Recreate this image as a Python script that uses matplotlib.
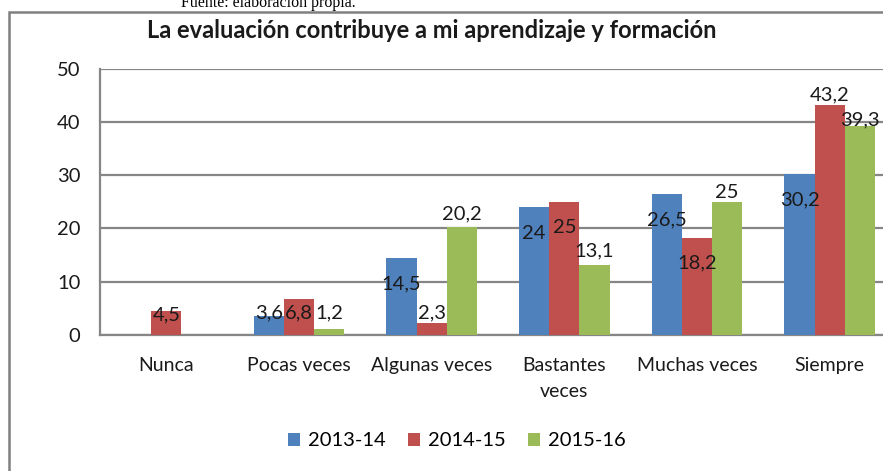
import numpy as np
import matplotlib.pyplot as plt
from matplotlib.patches import Rectangle

# Data
categories = ["Nunca", "Pocas veces", "Algunas veces", "Bastantes\nveces", "Muchas veces", "Siempre"]
series_names = ["2013-14", "2014-15", "2015-16"]
v_2013 = [np.nan, 3.6, 14.5, 24, 26.5, 30.2]
v_2014 = [4.5, 6.8, 2.3, 25, 18.2, 43.2]
v_2015 = [np.nan, 1.2, 20.2, 13.1, 25, 39.3]

colors = ["#4F81BD", "#C0504D", "#9BBB59"]
# vertical shift of each data label relative to the bar top (Excel-like placement)
label_dy = [
    [0, 0.5, -4.9, -4.9, -4.9, -4.9],
    [-0.8, -2.7, 1.8, -4.9, -4.7, 1.8],
    [0, 2.9, 2.5, 2.7, 1.8, 1.0],
]

plt.rcParams['font.family'] = ['Lato', 'DejaVu Sans']

fig = plt.figure(figsize=(8.83, 4.71), dpi=100)
W, H = 883, 471
ax = fig.add_axes([100 / W, 1 - 335 / H, 796 / W, 266.3 / H])

x = np.arange(len(categories))
bw = 0.227
for i, (vals, name) in enumerate(zip([v_2013, v_2014, v_2015], series_names)):
    xs = x + (i - 1) * bw
    ax.bar(xs, vals, width=bw, color=colors[i], label=name, zorder=3)
    for xi, v, dy in zip(xs, vals, label_dy[i]):
        if np.isnan(v):
            continue
        txt = ("%g" % v).replace(".", ",")
        ax.text(xi, v + dy, txt, ha="center", va="center", fontsize=14.5,
                color="#1a1a1a", zorder=4)

ax.set_xlim(-0.5, 5.5)
ax.set_ylim(0, 50)
ax.set_yticks(range(0, 51, 10))
ax.set_xticks(x)
ax.set_xticklabels(categories, color="#1a1a1a", linespacing=1.6)
ax.tick_params(axis="y", length=0, pad=14, labelsize=14.5, labelcolor="#1a1a1a")
ax.tick_params(axis="x", length=0, pad=16, labelsize=14)
for lbl in ax.get_xticklabels():
    lbl.set_verticalalignment("top")
ax.yaxis.grid(True, color="#868686", linewidth=1.6, zorder=0)
for s in ["top", "right"]:
    ax.spines[s].set_visible(False)
for s in ["left", "bottom"]:
    ax.spines[s].set_color("#868686")
    ax.spines[s].set_linewidth(1.6)

fig.legend(loc="center", bbox_to_anchor=(457 / W, 1 - 441 / H), ncol=3,
           frameon=False, fontsize=14.5, handlelength=0.6, handleheight=0.6,
           handletextpad=0.4, columnspacing=1.1)

fig.text(432 / W, 1 - 30 / H, "La evaluación contribuye a mi aprendizaje y formación",
         ha="center", va="center", fontsize=17, fontweight="bold", color="#1a1a1a")

# caption cut off at the top edge, as in the source
fig.text(268 / W, 1 - 7 / H, "Fuente: elaboración propia.", ha="center", va="baseline",
         fontsize=11.5, family="Liberation Serif", color="black")

# outer chart frame (runs off the right and bottom)
fig.patches.append(Rectangle((9 / W, -0.1), 1.2, 1.1 - 12 / H, transform=fig.transFigure,
                             fill=False, edgecolor="#808080", linewidth=1.8))

fig.savefig("out.png", dpi=100)
